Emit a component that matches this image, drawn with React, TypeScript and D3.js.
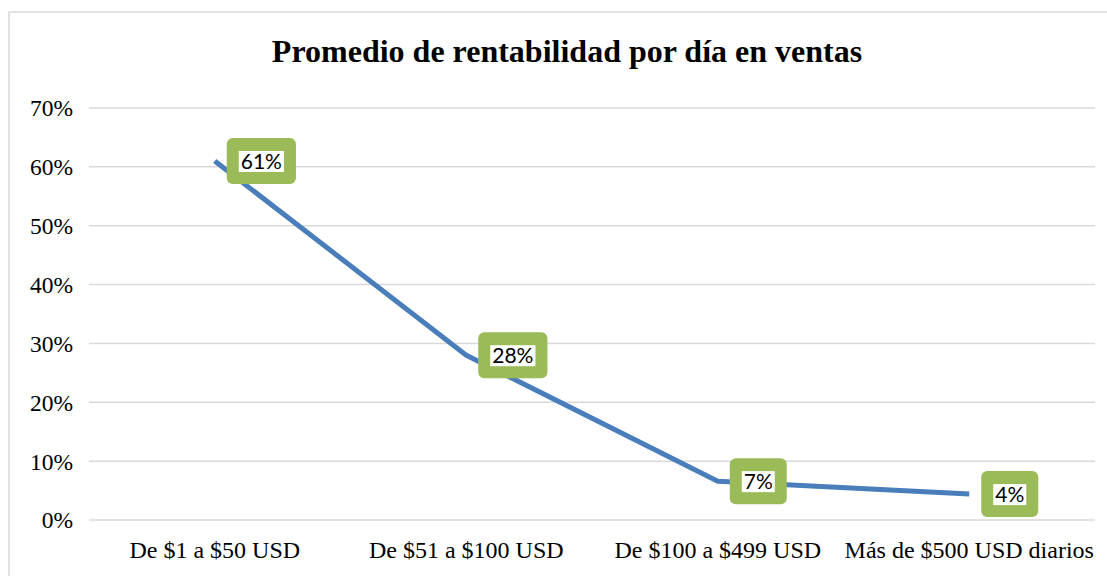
import React from "react";
import * as d3 from "d3";

const categories = ["De $1 a $50 USD", "De $51 a $100 USD", "De $100 a $499 USD", "Más de $500 USD diarios"];
const values = [0.61, 0.28, 0.066, 0.044];
const yTicks = [0, 0.1, 0.2, 0.3, 0.4, 0.5, 0.6, 0.7];
const title = "Promedio de rentabilidad por día en ventas";

const W = 1107;
const H = 576;
const plotLeft = 89;
const plotRight = 1095;
const yTop = 108;
const yBottom = 520;

const labelFont = "21px Lato";
function measure(text: string, font: string): number {
  const c = document.createElement("canvas");
  const ctx = c.getContext("2d");
  if (!ctx) return text.length * 11;
  ctx.font = font;
  return ctx.measureText(text).width;
}

export default function App() {
  const x = d3.scaleBand<string>().domain(categories).range([plotLeft, plotRight]);
  const y = d3.scaleLinear().domain([0, 0.7]).range([yBottom, yTop]);
  const cx = (c: string) => (x(c) as number) + x.bandwidth() / 2;
  const line = d3
    .line<number>()
    .x((_, i) => cx(categories[i]))
    .y((d) => y(d));
  const fmt = d3.format(".0%");

  return (
    <svg width={W} height={H} style={{ position: "absolute", left: 0, top: 0, background: "#fff" }}>
      <rect x={9} y={12} width={1120} height={600} fill="#fff" stroke="#d9d9d9" strokeWidth={1.5} />
      <text
        x={567}
        y={62}
        textAnchor="middle"
        fontFamily="'Liberation Serif', 'Times New Roman', serif"
        fontWeight="bold"
        fontSize={32}
        fill="#000"
      >
        {title}
      </text>
      {yTicks.map((t) => (
        <g key={t}>
          <line x1={plotLeft} x2={plotRight} y1={y(t)} y2={y(t)} stroke="#d9d9d9" strokeWidth={1.5} />
          <text
            x={73}
            y={y(t)}
            dy="0.36em"
            textAnchor="end"
            fontFamily="'Liberation Serif', 'Times New Roman', serif"
            fontSize={23.5}
            fill="#000"
          >
            {fmt(t)}
          </text>
        </g>
      ))}
      {categories.map((c) => (
        <text
          key={c}
          x={cx(c)}
          y={558}
          textAnchor="middle"
          fontFamily="'Liberation Serif', 'Times New Roman', serif"
          fontSize={24}
          fill="#000"
        >
          {c}
        </text>
      ))}
      <path d={line(values) || ""} fill="none" stroke="#4A7EBB" strokeWidth={5} strokeLinejoin="round" />
      {values.map((v, i) => {
        const label = fmt(v);
        const tw = measure(label, labelFont);
        const innerW = tw + 4;
        const outerW = innerW + 24;
        const outerH = 46;
        const px = cx(categories[i]);
        const py = y(v);
        const left = px + 12;
        const top = py - outerH / 2;
        return (
          <g key={i}>
            <rect x={left} y={top} width={outerW} height={outerH} rx={6} fill="#9BBB59" />
            <rect x={left + 12} y={top + 13} width={innerW} height={21} fill="#fff" />
            <text
              x={left + outerW / 2}
              y={top + 31}
              textAnchor="middle"
              fontFamily="Lato, 'Open Sans', sans-serif"
              fontSize={21}
              fill="#000"
            >
              {label}
            </text>
          </g>
        );
      })}
    </svg>
  );
}
